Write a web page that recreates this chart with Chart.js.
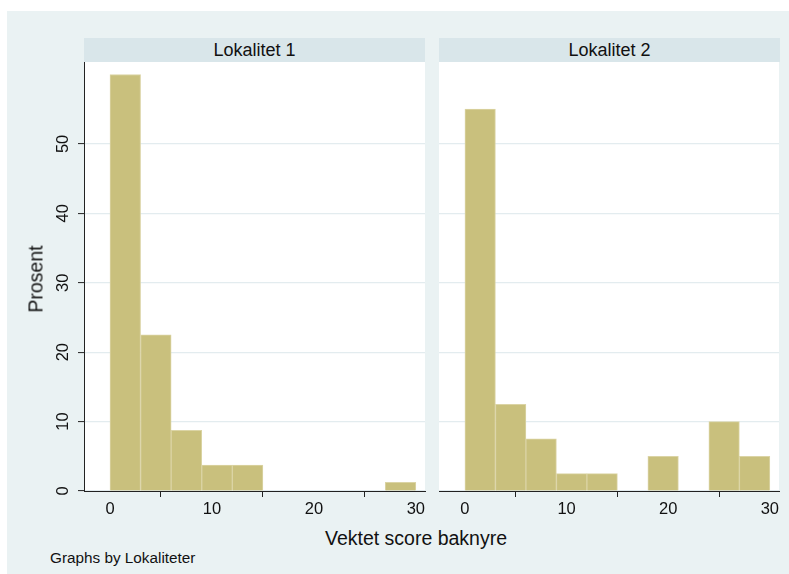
<!DOCTYPE html>
<html>
<head>
<meta charset="utf-8">
<script src="https://cdn.jsdelivr.net/npm/chart.js@4/dist/chart.umd.min.js"></script>
<style>
  html, body { margin: 0; padding: 0; background: #ffffff; }
  body { width: 789px; height: 574px; position: relative; overflow: hidden;
         font-family: "Liberation Sans", Arial, Helvetica, sans-serif; color: #111; }
  #bg { position: absolute; left: 7px; top: 11px; width: 782px; height: 563px; background: #eaf2f3; }
  .strip { position: absolute; top: 38px; height: 24px; width: 341px; background: #d9e6ea;
           font-size: 18px; line-height: 24px; text-align: center; color: #111; }
  .box { position: absolute; }
  #ytitle { position: absolute; left: 36px; top: 279px; transform: translate(-50%, -50%) rotate(-90deg);
            font-size: 19.5px; white-space: nowrap; }
  #xtitle { position: absolute; left: 416px; top: 538px; transform: translate(-50%, -50%);
            font-size: 19.5px; white-space: nowrap; }
  #note { position: absolute; left: 50px; top: 558px; transform: translateY(-50%);
          font-size: 15.3px; white-space: nowrap; }
</style>
</head>
<body>
<div id="bg"></div>
<div class="strip" style="left:84px;">Lokalitet 1</div>
<div class="strip" style="left:439px;">Lokalitet 2</div>
<div class="box" style="left:40px; top:42px;"><canvas id="c1" width="397" height="479"></canvas></div>
<div class="box" style="left:439px; top:42px;"><canvas id="c2" width="352" height="479"></canvas></div>
<div id="ytitle">Prosent</div>
<div id="xtitle">Vektet score baknyre</div>
<div id="note">Graphs by Lokaliteter</div>
<script>
// ---- data ----
const binStarts = [0, 3, 6, 9, 12, 15, 18, 21, 24, 27];
const binWidth = 3;
const lokalitet1 = [60, 22.5, 8.75, 3.75, 3.75, 0, 0, 0, 0, 1.25];
const lokalitet2 = [55, 12.5, 7.5, 2.5, 2.5, 0, 5, 0, 10, 5];
const xTickValues = [0, 10, 20, 30];
const yTickValues = [0, 10, 20, 30, 40, 50];
const xRange = [-2.55, 30.9];
const yRange = [0, 61.8];

const barFill = 'rgb(201,192,125)';
const barEdge = 'rgb(219,212,165)';
const tickFont = { family: '"Liberation Sans", Arial, Helvetica, sans-serif', size: 16.5 };

const plotBg = {
  id: 'plotBg',
  beforeDraw(chart) {
    const { ctx, chartArea: a } = chart;
    ctx.save();
    ctx.fillStyle = '#ffffff';
    ctx.fillRect(a.left, a.top, a.right - a.left, a.bottom - a.top);
    ctx.restore();
  }
};

function makeChart(id, values, showY) {
  const data = binStarts.map((b, i) => ({ x: b + binWidth / 2, y: values[i] }));
  return new Chart(document.getElementById(id), {
    type: 'bar',
    data: {
      datasets: [{
        data,
        backgroundColor: barFill,
        borderColor: barEdge,
        borderWidth: 1,
        barPercentage: 1,
        categoryPercentage: 1
      }]
    },
    options: {
      responsive: false,
      animation: false,
      devicePixelRatio: 1,
      layout: { padding: { top: 20, right: 12, bottom: 0, left: 0 } },
      plugins: { legend: { display: false }, tooltip: { enabled: false } },
      scales: {
        x: {
          type: 'linear',
          min: xRange[0],
          max: xRange[1],
          offset: false,
          afterBuildTicks: s => { s.ticks = xTickValues.map(v => ({ value: v })); },
          afterFit: s => { s.height = 30; },
          grid: { drawOnChartArea: false, drawTicks: true, tickLength: 6, tickColor: '#222', tickWidth: 1 },
          border: { display: true, color: '#222', width: 1 },
          ticks: { color: '#111', font: tickFont, padding: 3, maxRotation: 0, minRotation: 0 }
        },
        y: {
          type: 'linear',
          min: yRange[0],
          max: yRange[1],
          afterBuildTicks: s => { s.ticks = yTickValues.map(v => ({ value: v })); },
          afterFit: s => { s.width = showY ? 44 : 0; },
          grid: { color: '#e3ecef', lineWidth: 1.2, drawTicks: showY, tickLength: 6, tickColor: '#222', tickWidth: 1 },
          border: { display: showY, color: '#222', width: 1 },
          ticks: { display: showY, color: '#111', font: tickFont, padding: 5,
                   minRotation: 90, maxRotation: 90, crossAlign: 'center' }
        }
      }
    },
    plugins: [plotBg]
  });
}

makeChart('c1', lokalitet1, true);
makeChart('c2', lokalitet2, false);
</script>
</body>
</html>
